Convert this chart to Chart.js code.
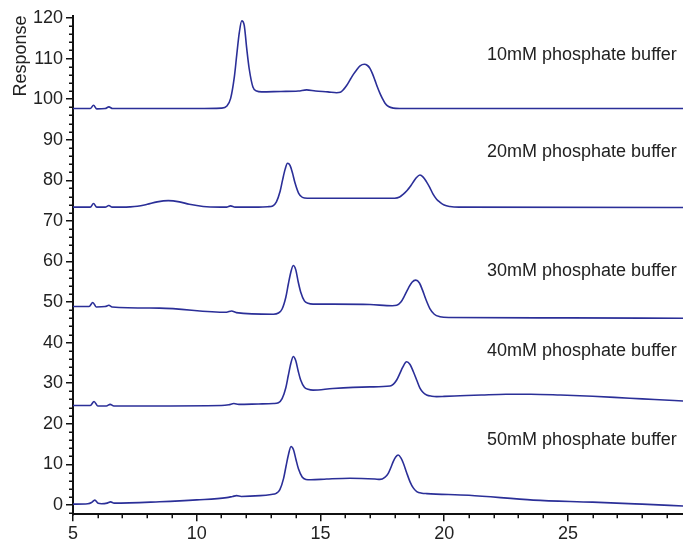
<!DOCTYPE html>
<html>
<head>
<meta charset="utf-8">
<script src="https://cdn.jsdelivr.net/npm/chart.js@4/dist/chart.umd.min.js"></script>
<style>
  html, body { margin: 0; padding: 0; background: #fff; }
  #wrap { width: 683px; height: 541px; position: relative; }
</style>
</head>
<body>
<div id="wrap"><canvas id="c"></canvas></div>
<script>
// ---- Data ----
const seriesLabels = ["10mM phosphate buffer", "20mM phosphate buffer", "30mM phosphate buffer", "40mM phosphate buffer", "50mM phosphate buffer"];
const labelYValues = [110.9, 87.0, 57.7, 37.95, 16.0];

const x10 = [5.0,5.7,5.83,5.96,6.3,6.45,6.6,8.0,10.0,11.0,11.22,11.37,11.52,11.62,11.72,11.82,11.92,12.02,12.12,12.27,12.42,12.62,13.4,14.1,14.44,14.8,15.3,15.65,15.8,15.92,16.05,16.19,16.33,16.46,16.6,16.77,16.9,17.0,17.1,17.2,17.3,17.4,17.5,17.61,17.75,17.94,18.2,22.0,29.7];
const y10 = [97.7,97.7,98.5,97.6,97.7,98.1,97.7,97.7,97.7,97.8,98.3,100.2,105.5,111.1,116.4,119.3,118.2,112.5,107.5,103.0,102.0,101.8,101.9,102.0,102.3,102.0,101.8,101.6,101.7,102.3,103.3,104.7,106.1,107.2,108.2,108.6,108.3,107.6,106.3,104.7,103.0,101.5,100.2,99.0,98.2,97.8,97.7,97.7,97.7];

const x20 = [5.0,5.7,5.83,5.96,6.3,6.45,6.58,7.0,7.3,7.6,8.0,8.4,8.85,9.3,9.7,10.0,10.4,11.2,11.37,11.55,12.5,12.87,13.07,13.22,13.37,13.47,13.57,13.67,13.77,13.87,13.97,14.12,14.27,14.47,16.0,18.0,18.2,18.35,18.5,18.62,18.75,18.88,19.02,19.15,19.28,19.42,19.55,19.7,19.83,20.0,20.23,20.6,29.7];
const y20 = [73.4,73.4,74.3,73.4,73.4,73.8,73.4,73.4,73.45,73.6,74.1,74.7,75.0,74.7,74.1,73.8,73.5,73.4,73.7,73.4,73.4,73.5,73.7,74.7,77.3,80.1,82.7,84.2,83.7,81.8,79.4,76.8,75.8,75.6,75.6,75.6,75.9,76.6,77.5,78.4,79.6,80.7,81.3,80.8,79.7,78.2,76.6,75.3,74.6,73.9,73.55,73.4,73.3];

const x30 = [5.0,5.65,5.8,5.94,6.3,6.45,6.58,8.5,11.2,11.41,11.6,13.1,13.3,13.45,13.6,13.7,13.8,13.9,14.0,14.1,14.2,14.35,14.5,14.7,15.5,17.0,17.9,18.08,18.25,18.4,18.55,18.7,18.85,19.0,19.12,19.25,19.42,19.6,19.83,20.2,25.0,29.7];
const y30 = [48.9,48.9,49.9,48.8,48.9,49.2,48.8,48.5,47.5,47.8,47.4,47.0,47.3,48.3,51.2,54.4,57.3,59.0,58.0,55.0,52.5,50.3,49.7,49.5,49.5,49.4,49.1,49.2,50.0,51.6,53.4,54.9,55.4,54.7,53.0,50.8,48.4,47.0,46.4,46.2,46.1,46.0];

const x40 = [5.0,5.7,5.85,6.0,6.35,6.5,6.65,8.0,11.0,11.3,11.5,11.7,12.5,13.1,13.3,13.45,13.6,13.7,13.8,13.9,14.0,14.1,14.2,14.35,14.5,14.7,15.5,17.0,17.81,17.95,18.08,18.2,18.32,18.48,18.62,18.75,18.9,19.02,19.15,19.29,19.5,19.69,20.0,20.64,21.5,22.5,23.5,24.7,26.0,27.5,28.5,29.7];
const y40 = [24.5,24.5,25.5,24.4,24.4,24.8,24.4,24.4,24.5,24.7,25.0,24.8,24.9,25.0,25.2,26.2,28.9,31.9,34.8,36.6,35.6,33.0,30.8,29.0,28.5,28.3,28.7,29.1,29.3,29.8,30.8,32.3,33.9,35.3,34.6,32.9,30.6,28.8,27.7,27.1,26.8,26.7,26.75,26.9,27.1,27.3,27.3,27.1,26.8,26.3,26.0,25.6];

const x50 = [5.0,5.6,5.75,5.88,6.02,6.15,6.38,6.52,6.66,8.5,10.0,11.21,11.45,11.61,11.8,12.56,13.01,13.21,13.36,13.51,13.61,13.71,13.81,13.91,14.01,14.11,14.26,14.41,14.61,15.25,16.19,17.2,17.4,17.6,17.74,17.85,17.94,18.04,18.14,18.25,18.35,18.48,18.62,18.75,18.89,19.1,19.3,21.0,23.6,26.0,28.0,29.7];
const y50 = [0.2,0.3,0.6,1.2,0.4,0.3,0.45,0.75,0.45,0.8,1.25,1.8,2.1,2.3,2.1,2.3,2.6,2.85,3.8,6.55,9.6,12.5,14.4,13.6,11.2,8.9,6.9,6.3,6.2,6.4,6.6,6.4,6.3,6.8,7.8,9.3,10.7,11.8,12.3,11.6,10.3,8.0,5.7,4.2,3.3,2.9,2.8,2.4,1.2,0.7,0.2,-0.25];

const xTickValues = [5, 10, 15, 20, 25];
const yTickValues = [0, 10, 20, 30, 40, 50, 60, 70, 80, 90, 100, 110, 120];

// ---- Build chart ----
const LINE = '#2b2f98';
const TXT = '#222222';
const FONT = '"Liberation Sans", Arial, sans-serif';
const seriesX = [x10, x20, x30, x40, x50];
const seriesY = [y10, y20, y30, y40, y50];
const datasets = seriesX.map((xs, i) => ({
  label: seriesLabels[i],
  data: xs.map((x, k) => ({ x: x, y: seriesY[i][k] })),
  borderColor: LINE,
  borderWidth: 1.6,
  pointRadius: 0,
  fill: false,
  cubicInterpolationMode: 'monotone'
}));

const decor = {
  id: 'decor',
  afterDraw(chart) {
    const ctx = chart.ctx;
    const xs = chart.scales.x, ys = chart.scales.y;
    const area = chart.chartArea;
    ctx.save();
    // minor ticks
    ctx.strokeStyle = '#111';
    ctx.lineWidth = 1.5;
    ctx.beginPath();
    for (let v = -2; v <= 120; v += 2) {
      if (v % 10 === 0) continue;
      const py = Math.round(ys.getPixelForValue(v)) + 0.25;
      ctx.moveTo(area.left, py);
      ctx.lineTo(area.left - 4, py);
    }
    for (let v = 6; v <= 29; v += 1) {
      if (v % 5 === 0) continue;
      const px = Math.round(xs.getPixelForValue(v)) + 0.25;
      ctx.moveTo(px, area.bottom);
      ctx.lineTo(px, area.bottom + 4);
    }
    ctx.stroke();
    // series labels
    ctx.fillStyle = TXT;
    ctx.font = '18px ' + FONT;
    ctx.textAlign = 'right';
    ctx.textBaseline = 'middle';
    const rx = xs.getPixelForValue(29.4);
    seriesLabels.forEach((t, i) => {
      ctx.fillText(t, rx, ys.getPixelForValue(labelYValues[i]));
    });
    // y title
    ctx.translate(26, 56);
    ctx.rotate(-Math.PI / 2);
    ctx.textAlign = 'center';
    ctx.textBaseline = 'alphabetic';
    ctx.fillText('Response', 0, 0);
    ctx.restore();
  }
};

new Chart(document.getElementById('c'), {
  type: 'line',
  data: { datasets: datasets },
  options: {
    responsive: true,
    maintainAspectRatio: false,
    animation: false,
    layout: { padding: { top: 16, right: 0, left: 0, bottom: 0 }, autoPadding: false },
    plugins: { legend: { display: false }, tooltip: { enabled: false } },
    scales: {
      x: {
        type: 'linear',
        min: 5,
        max: 29.65,
        afterBuildTicks: (s) => { s.ticks = xTickValues.map(v => ({ value: v })); },
        afterFit: (s) => { s.height = 26.7; },
        border: { display: true, color: '#111', width: 2 },
        grid: { drawOnChartArea: false, drawTicks: true, tickLength: 7, color: '#111', lineWidth: 1.5 },
        ticks: { color: TXT, font: { family: FONT, size: 18 }, padding: 2, maxRotation: 0, autoSkip: false }
      },
      y: {
        type: 'linear',
        min: -2.3,
        max: 120.5,
        afterBuildTicks: (s) => { s.ticks = yTickValues.map(v => ({ value: v })); },
        afterFit: (s) => { s.width = 73; },
        border: { display: true, color: '#111', width: 2 },
        grid: { drawOnChartArea: false, drawTicks: true, tickLength: 7, color: '#111', lineWidth: 1.5 },
        ticks: { color: TXT, font: { family: FONT, size: 18 }, padding: 3, autoSkip: false }
      }
    }
  },
  plugins: [decor]
});
</script>
</body>
</html>
